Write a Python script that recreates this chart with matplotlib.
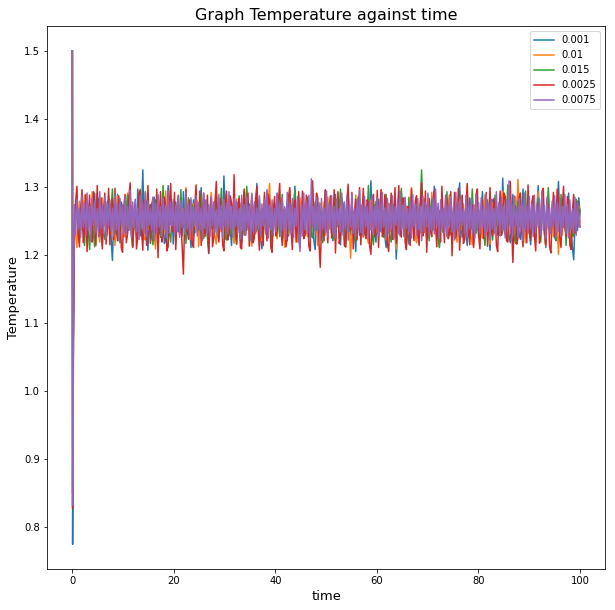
import numpy as np
import matplotlib
matplotlib.use('Agg')
import matplotlib.pyplot as plt

# time grid: a few samples for the initial transient, then the steady run
t_start = [0.0, 0.05, 0.2]
t_first, t_last = 0.4, 100

labels = ['0.001', '0.01', '0.015', '0.0025', '0.0075']

# temperatures (transient first, then the noisy plateau)
temp_0001 = [1.5, 0.775, 1.05,
    1.238, 1.262, 1.271, 1.229, 1.226, 1.257, 1.284, 1.243, 1.247, 1.273, 1.219, 1.251, 1.276, 1.222, 1.233, 1.268, 1.291, 1.239, 1.241, 1.283, 1.262, 1.228, 1.214, 1.266, 1.279, 1.245, 1.236, 1.287, 1.268, 1.224, 1.192, 1.249, 1.258, 1.231, 1.289, 1.254, 1.223, 1.278, 1.270, 1.235,
    1.231, 1.259, 1.283, 1.236, 1.249, 1.271, 1.212, 1.242, 1.266, 1.227, 1.297, 1.255, 1.228, 1.263, 1.325, 1.238, 1.244, 1.279, 1.207, 1.248, 1.274, 1.224, 1.252, 1.285, 1.218, 1.256, 1.286, 1.231, 1.239, 1.272, 1.263, 1.217, 1.221, 1.264, 1.302, 1.246, 1.245, 1.277, 1.216, 1.253,
    1.278, 1.241, 1.234, 1.267, 1.259, 1.228, 1.293, 1.252, 1.225, 1.274, 1.268, 1.236, 1.211, 1.258, 1.281, 1.232, 1.246, 1.269, 1.229, 1.262, 1.299, 1.244, 1.237, 1.281, 1.264, 1.226, 1.202, 1.247, 1.273, 1.239, 1.251, 1.276, 1.286, 1.233, 1.222, 1.265, 1.261, 1.243, 1.316, 1.257,
    1.232, 1.254, 1.269, 1.238, 1.214, 1.263, 1.287, 1.229, 1.243, 1.277, 1.256, 1.221, 1.218, 1.266, 1.294, 1.248, 1.236, 1.259, 1.275, 1.233, 1.227, 1.272, 1.262, 1.244, 1.305, 1.251, 1.241, 1.226, 1.209, 1.257, 1.271, 1.236, 1.248, 1.278, 1.283, 1.239, 1.224, 1.268, 1.259, 1.231,
    1.291, 1.247, 1.233, 1.271, 1.266, 1.235, 1.217, 1.255, 1.279, 1.228, 1.245, 1.274, 1.228, 1.259, 1.301, 1.242, 1.252, 1.223, 1.213, 1.261, 1.272, 1.237, 1.239, 1.276, 1.285, 1.243, 1.226, 1.258, 1.263, 1.221, 1.208, 1.253, 1.277, 1.234, 1.249, 1.268, 1.231, 1.256, 1.295, 1.244,
    1.236, 1.273, 1.268, 1.232, 1.221, 1.257, 1.289, 1.241, 1.254, 1.226, 1.215, 1.264, 1.276, 1.238, 1.242, 1.281, 1.298, 1.246, 1.229, 1.267, 1.261, 1.234, 1.205, 1.252, 1.283, 1.229, 1.247, 1.271, 1.227, 1.256, 1.271, 1.224, 1.238, 1.262, 1.309, 1.245, 1.251, 1.233, 1.219, 1.266,
    1.282, 1.248, 1.234, 1.263, 1.265, 1.227, 1.211, 1.256, 1.274, 1.239, 1.246, 1.279, 1.225, 1.251, 1.194, 1.237, 1.258, 1.228, 1.292, 1.249, 1.237, 1.275, 1.269, 1.231, 1.216, 1.262, 1.287, 1.242, 1.243, 1.268, 1.259, 1.226, 1.222, 1.271, 1.296, 1.251, 1.235, 1.264, 1.273, 1.229,
    1.228, 1.257, 1.262, 1.236, 1.301, 1.254, 1.244, 1.271, 1.212, 1.249, 1.279, 1.233, 1.253, 1.277, 1.231, 1.262, 1.288, 1.241, 1.219, 1.258, 1.266, 1.224, 1.241, 1.276, 1.306, 1.249, 1.226, 1.265, 1.257, 1.232, 1.214, 1.261, 1.284, 1.238, 1.248, 1.271, 1.232, 1.258, 1.275, 1.226,
    1.239, 1.268, 1.293, 1.245, 1.221, 1.257, 1.264, 1.231, 1.207, 1.252, 1.281, 1.238, 1.247, 1.274, 1.229, 1.263, 1.272, 1.241, 1.313, 1.259, 1.236, 1.278, 1.255, 1.227, 1.218, 1.261, 1.289, 1.244, 1.243, 1.272, 1.266, 1.229, 1.223, 1.258, 1.297, 1.247, 1.234, 1.269, 1.261, 1.237,
    1.215, 1.254, 1.278, 1.233, 1.246, 1.269, 1.302, 1.251, 1.229, 1.263, 1.267, 1.228, 1.211, 1.257, 1.284, 1.242, 1.238, 1.273, 1.259, 1.226, 1.221, 1.266, 1.308, 1.252, 1.244, 1.231, 1.273, 1.248, 1.226, 1.264, 1.291, 1.239, 1.236, 1.211, 1.193, 1.245, 1.262, 1.236, 1.284, 1.262]

temp_001 = [1.5, 0.86, 1.1,
    1.262, 1.232, 1.211, 1.254, 1.279, 1.243, 1.236, 1.271, 1.288, 1.247, 1.224, 1.265, 1.257, 1.228, 1.293, 1.249, 1.232, 1.274, 1.268, 1.235, 1.219, 1.256, 1.284, 1.242, 1.245, 1.266, 1.229, 1.252, 1.276, 1.231, 1.251, 1.272, 1.214, 1.248, 1.287, 1.241, 1.239, 1.267, 1.263, 1.227,
    1.227, 1.264, 1.291, 1.238, 1.248, 1.272, 1.216, 1.253, 1.273, 1.229, 1.235, 1.268, 1.297, 1.246, 1.254, 1.226, 1.222, 1.261, 1.281, 1.237, 1.243, 1.275, 1.266, 1.231, 1.209, 1.255, 1.277, 1.244, 1.238, 1.269, 1.259, 1.233, 1.294, 1.252, 1.226, 1.263, 1.271, 1.236, 1.246, 1.278,
    1.218, 1.257, 1.286, 1.242, 1.233, 1.268, 1.264, 1.229, 1.299, 1.256, 1.241, 1.272, 1.223, 1.248, 1.275, 1.236, 1.252, 1.279, 1.212, 1.244, 1.283, 1.251, 1.237, 1.262, 1.267, 1.232, 1.225, 1.271, 1.292, 1.243, 1.249, 1.227, 1.216, 1.258, 1.278, 1.239, 1.234, 1.266, 1.261, 1.228,
    1.289, 1.245, 1.228, 1.263, 1.256, 1.231, 1.217, 1.259, 1.282, 1.237, 1.244, 1.276, 1.271, 1.242, 1.231, 1.268, 1.296, 1.249, 1.253, 1.229, 1.213, 1.257, 1.274, 1.236, 1.239, 1.271, 1.265, 1.227, 1.221, 1.262, 1.287, 1.241, 1.247, 1.276, 1.305, 1.253, 1.236, 1.268, 1.258, 1.232,
    1.224, 1.258, 1.279, 1.236, 1.242, 1.266, 1.211, 1.249, 1.268, 1.231, 1.293, 1.252, 1.233, 1.271, 1.255, 1.226, 1.219, 1.262, 1.284, 1.241, 1.246, 1.273, 1.272, 1.234, 1.227, 1.256, 1.261, 1.239, 1.298, 1.247, 1.238, 1.267, 1.214, 1.252, 1.276, 1.236, 1.251, 1.278, 1.229, 1.259,
    1.285, 1.238, 1.243, 1.271, 1.266, 1.229, 1.221, 1.259, 1.291, 1.247, 1.234, 1.265, 1.257, 1.226, 1.212, 1.254, 1.279, 1.236, 1.195, 1.248, 1.262, 1.231, 1.288, 1.246, 1.237, 1.268, 1.273, 1.235, 1.226, 1.263, 1.254, 1.228, 1.217, 1.257, 1.281, 1.242, 1.244, 1.274, 1.269, 1.233,
    1.231, 1.264, 1.295, 1.243, 1.248, 1.271, 1.222, 1.256, 1.276, 1.234, 1.239, 1.268, 1.263, 1.229, 1.209, 1.252, 1.286, 1.241, 1.252, 1.274, 1.228, 1.259, 1.271, 1.232, 1.235, 1.262, 1.299, 1.248, 1.245, 1.226, 1.218, 1.256, 1.267, 1.233, 1.241, 1.272, 1.283, 1.239, 1.224, 1.261,
    1.258, 1.234, 1.292, 1.251, 1.236, 1.266, 1.269, 1.231, 1.213, 1.255, 1.278, 1.238, 1.249, 1.272, 1.227, 1.259, 1.287, 1.243, 1.241, 1.268, 1.264, 1.229, 1.219, 1.257, 1.282, 1.236, 1.254, 1.275, 1.232, 1.261, 1.296, 1.247, 1.246, 1.227, 1.215, 1.253, 1.274, 1.237, 1.238, 1.266,
    1.263, 1.238, 1.225, 1.261, 1.289, 1.244, 1.247, 1.272, 1.216, 1.253, 1.277, 1.232, 1.235, 1.264, 1.268, 1.237, 1.229, 1.271, 1.294, 1.246, 1.251, 1.228, 1.221, 1.259, 1.273, 1.236, 1.242, 1.267, 1.286, 1.254, 1.311, 1.262, 1.237, 1.271, 1.259, 1.233, 1.218, 1.256, 1.279, 1.243,
    1.244, 1.266, 1.271, 1.237, 1.226, 1.258, 1.293, 1.248, 1.239, 1.274, 1.262, 1.231, 1.214, 1.255, 1.283, 1.241, 1.249, 1.268, 1.227, 1.256, 1.275, 1.238, 1.201, 1.247, 1.258, 1.229, 1.288, 1.251, 1.233, 1.264, 1.266, 1.232, 1.219, 1.257, 1.281, 1.242, 1.245, 1.271, 1.272, 1.248]

temp_0015 = [1.5, 0.85, 1.12,
    1.247, 1.263, 1.276, 1.238, 1.229, 1.257, 1.268, 1.234, 1.214, 1.252, 1.283, 1.236, 1.208, 1.246, 1.257, 1.231, 1.212, 1.262, 1.291, 1.249, 1.238, 1.271, 1.265, 1.232, 1.223, 1.254, 1.279, 1.241, 1.244, 1.268, 1.297, 1.252, 1.231, 1.264, 1.259, 1.227, 1.218, 1.256, 1.272, 1.239,
    1.236, 1.262, 1.288, 1.243, 1.251, 1.229, 1.213, 1.255, 1.274, 1.238, 1.242, 1.269, 1.266, 1.231, 1.221, 1.258, 1.293, 1.247, 1.239, 1.273, 1.257, 1.228, 1.215, 1.254, 1.281, 1.237, 1.248, 1.271, 1.226, 1.259, 1.302, 1.248, 1.245, 1.264, 1.268, 1.233, 1.219, 1.255, 1.277, 1.241,
    1.234, 1.268, 1.262, 1.237, 1.296, 1.251, 1.241, 1.265, 1.217, 1.249, 1.284, 1.236, 1.253, 1.274, 1.228, 1.257, 1.271, 1.233, 1.243, 1.266, 1.289, 1.242, 1.224, 1.261, 1.258, 1.227, 1.211, 1.252, 1.279, 1.238, 1.246, 1.272, 1.267, 1.229, 1.232, 1.263, 1.298, 1.244, 1.249, 1.226,
    1.222, 1.256, 1.275, 1.231, 1.238, 1.267, 1.263, 1.229, 1.216, 1.255, 1.287, 1.242, 1.244, 1.271, 1.229, 1.261, 1.301, 1.248, 1.252, 1.227, 1.219, 1.258, 1.269, 1.234, 1.237, 1.264, 1.283, 1.241, 1.226, 1.257, 1.258, 1.231, 1.294, 1.252, 1.241, 1.268, 1.213, 1.249, 1.276, 1.238,
    1.248, 1.271, 1.227, 1.259, 1.289, 1.241, 1.256, 1.232, 1.221, 1.263, 1.272, 1.237, 1.239, 1.266, 1.295, 1.249, 1.244, 1.228, 1.216, 1.254, 1.267, 1.238, 1.231, 1.269, 1.284, 1.241, 1.253, 1.229, 1.225, 1.261, 1.278, 1.236, 1.242, 1.273, 1.262, 1.233, 1.218, 1.257, 1.291, 1.246,
    1.237, 1.259, 1.264, 1.231, 1.223, 1.256, 1.281, 1.243, 1.249, 1.268, 1.297, 1.251, 1.234, 1.261, 1.212, 1.247, 1.273, 1.235, 1.245, 1.271, 1.259, 1.228, 1.221, 1.262, 1.286, 1.244, 1.238, 1.269, 1.266, 1.232, 1.228, 1.257, 1.302, 1.253, 1.247, 1.229, 1.215, 1.256, 1.279, 1.242,
    1.243, 1.265, 1.268, 1.234, 1.226, 1.259, 1.289, 1.245, 1.251, 1.227, 1.219, 1.256, 1.274, 1.238, 1.236, 1.271, 1.263, 1.239, 1.298, 1.252, 1.241, 1.266, 1.214, 1.248, 1.285, 1.237, 1.252, 1.274, 1.229, 1.258, 1.271, 1.233, 1.246, 1.279, 1.325, 1.262, 1.233, 1.255, 1.266, 1.238,
    1.221, 1.257, 1.282, 1.238, 1.247, 1.269, 1.258, 1.229, 1.211, 1.253, 1.276, 1.234, 1.239, 1.265, 1.293, 1.246, 1.254, 1.231, 1.227, 1.262, 1.269, 1.236, 1.243, 1.271, 1.218, 1.252, 1.286, 1.241, 1.235, 1.267, 1.261, 1.228, 1.224, 1.259, 1.297, 1.248, 1.249, 1.232, 1.273, 1.244,
    1.232, 1.258, 1.267, 1.236, 1.214, 1.252, 1.281, 1.239, 1.245, 1.271, 1.222, 1.256, 1.288, 1.243, 1.253, 1.229, 1.236, 1.266, 1.274, 1.238, 1.229, 1.262, 1.303, 1.251, 1.242, 1.273, 1.261, 1.227, 1.217, 1.255, 1.279, 1.241, 1.248, 1.268, 1.231, 1.259, 1.294, 1.247, 1.256, 1.234,
    1.226, 1.254, 1.271, 1.235, 1.238, 1.266, 1.284, 1.242, 1.219, 1.257, 1.263, 1.231, 1.247, 1.272, 1.299, 1.251, 1.233, 1.262, 1.276, 1.239, 1.222, 1.259, 1.258, 1.234, 1.289, 1.246, 1.241, 1.268, 1.214, 1.251, 1.273, 1.237, 1.252, 1.227, 1.228, 1.264, 1.282, 1.248, 1.245, 1.267]

temp_00025 = [1.5, 0.828, 1.08,
    1.224, 1.279, 1.301, 1.231, 1.212, 1.268, 1.296, 1.218, 1.237, 1.289, 1.205, 1.256, 1.288, 1.226, 1.219, 1.293, 1.274, 1.214, 1.302, 1.247, 1.228, 1.284, 1.209, 1.262, 1.291, 1.216, 1.243, 1.298, 1.215, 1.251, 1.283, 1.223, 1.298, 1.239, 1.221, 1.287, 1.266, 1.211, 1.204, 1.272,
    1.289, 1.218, 1.232, 1.286, 1.306, 1.244, 1.211, 1.263, 1.278, 1.209, 1.226, 1.291, 1.295, 1.236, 1.207, 1.281, 1.259, 1.214, 1.302, 1.253, 1.217, 1.274, 1.284, 1.222, 1.239, 1.297, 1.196, 1.258, 1.293, 1.219, 1.228, 1.285, 1.271, 1.206, 1.213, 1.276, 1.305, 1.241, 1.234, 1.292,
    1.208, 1.264, 1.287, 1.229, 1.254, 1.213, 1.172, 1.251, 1.296, 1.238, 1.223, 1.281, 1.279, 1.216, 1.211, 1.272, 1.303, 1.245, 1.238, 1.294, 1.214, 1.259, 1.291, 1.227, 1.247, 1.288, 1.203, 1.256, 1.285, 1.212, 1.226, 1.279, 1.308, 1.242, 1.219, 1.283, 1.268, 1.215, 1.206, 1.274,
    1.294, 1.222, 1.231, 1.287, 1.276, 1.236, 1.318, 1.249, 1.216, 1.271, 1.283, 1.211, 1.209, 1.268, 1.297, 1.229, 1.242, 1.291, 1.213, 1.257, 1.288, 1.218, 1.225, 1.282, 1.301, 1.237, 1.207, 1.262, 1.265, 1.214, 1.292, 1.246, 1.221, 1.289, 1.279, 1.211, 1.204, 1.267, 1.286, 1.228,
    1.233, 1.278, 1.305, 1.241, 1.214, 1.263, 1.268, 1.212, 1.227, 1.286, 1.299, 1.235, 1.208, 1.271, 1.281, 1.219, 1.245, 1.293, 1.211, 1.257, 1.294, 1.224, 1.229, 1.288, 1.274, 1.213, 1.206, 1.266, 1.309, 1.248, 1.236, 1.291, 1.285, 1.218, 1.182, 1.243, 1.262, 1.221, 1.296, 1.249,
    1.218, 1.267, 1.287, 1.225, 1.241, 1.296, 1.203, 1.254, 1.293, 1.217, 1.229, 1.284, 1.271, 1.214, 1.212, 1.269, 1.304, 1.246, 1.237, 1.292, 1.209, 1.263, 1.282, 1.222, 1.255, 1.299, 1.215, 1.258, 1.298, 1.236, 1.224, 1.281, 1.276, 1.213, 1.201, 1.259, 1.289, 1.227, 1.243, 1.295,
    1.211, 1.262, 1.296, 1.227, 1.233, 1.289, 1.278, 1.216, 1.205, 1.258, 1.291, 1.223, 1.248, 1.299, 1.217, 1.266, 1.302, 1.241, 1.226, 1.283, 1.284, 1.219, 1.208, 1.271, 1.269, 1.214, 1.297, 1.245, 1.221, 1.279, 1.287, 1.232, 1.214, 1.273, 1.306, 1.228, 1.239, 1.294, 1.204, 1.256,
    1.283, 1.236, 1.227, 1.281, 1.295, 1.242, 1.212, 1.268, 1.264, 1.219, 1.301, 1.253, 1.218, 1.287, 1.279, 1.224, 1.231, 1.293, 1.199, 1.251, 1.292, 1.226, 1.246, 1.298, 1.207, 1.262, 1.288, 1.217, 1.223, 1.276, 1.305, 1.239, 1.215, 1.268, 1.274, 1.211, 1.236, 1.289, 1.297, 1.229,
    1.209, 1.265, 1.281, 1.224, 1.244, 1.292, 1.213, 1.257, 1.299, 1.238, 1.228, 1.283, 1.267, 1.214, 1.205, 1.262, 1.294, 1.229, 1.237, 1.291, 1.286, 1.221, 1.219, 1.276, 1.308, 1.243, 1.189, 1.248, 1.272, 1.216, 1.225, 1.285, 1.291, 1.234, 1.212, 1.269, 1.263, 1.218, 1.303, 1.247,
    1.221, 1.278, 1.287, 1.231, 1.206, 1.259, 1.276, 1.217, 1.234, 1.293, 1.298, 1.238, 1.215, 1.281, 1.269, 1.212, 1.203, 1.255, 1.292, 1.228, 1.241, 1.297, 1.284, 1.226, 1.211, 1.268, 1.301, 1.243, 1.227, 1.286, 1.275, 1.214, 1.208, 1.263, 1.289, 1.232, 1.236, 1.279, 1.262, 1.241]

temp_00075 = [1.5, 0.832, 1.1,
    1.274, 1.231, 1.282, 1.238, 1.269, 1.226, 1.287, 1.241, 1.276, 1.229, 1.291, 1.236, 1.271, 1.222, 1.284, 1.244, 1.279, 1.233, 1.268, 1.227, 1.293, 1.239, 1.273, 1.231, 1.286, 1.224, 1.277, 1.242, 1.281, 1.235, 1.269, 1.228, 1.289, 1.237, 1.275, 1.221, 1.283, 1.243, 1.272, 1.232,
    1.286, 1.229, 1.271, 1.238, 1.295, 1.226, 1.278, 1.241, 1.282, 1.234, 1.269, 1.223, 1.287, 1.239, 1.274, 1.231, 1.291, 1.227, 1.279, 1.244, 1.268, 1.236, 1.285, 1.222, 1.276, 1.233, 1.289, 1.241, 1.271, 1.228, 1.283, 1.237, 1.273, 1.225, 1.294, 1.232, 1.277, 1.243, 1.281, 1.229,
    1.272, 1.235, 1.288, 1.226, 1.279, 1.241, 1.268, 1.231, 1.292, 1.238, 1.275, 1.224, 1.284, 1.233, 1.271, 1.242, 1.287, 1.228, 1.277, 1.236, 1.269, 1.221, 1.291, 1.239, 1.281, 1.232, 1.274, 1.227, 1.286, 1.243, 1.278, 1.234, 1.267, 1.229, 1.289, 1.237, 1.273, 1.225, 1.282, 1.241,
    1.276, 1.231, 1.293, 1.238, 1.271, 1.226, 1.283, 1.242, 1.279, 1.233, 1.268, 1.224, 1.288, 1.236, 1.274, 1.229, 1.285, 1.241, 1.272, 1.222, 1.291, 1.235, 1.278, 1.231, 1.269, 1.238, 1.287, 1.227, 1.275, 1.243, 1.282, 1.232, 1.296, 1.225, 1.273, 1.237, 1.281, 1.229, 1.268, 1.234,
    1.289, 1.241, 1.277, 1.228, 1.284, 1.236, 1.271, 1.223, 1.292, 1.239, 1.275, 1.231, 1.283, 1.226, 1.269, 1.242, 1.286, 1.233, 1.205, 1.274, 1.228, 1.291, 1.237, 1.279, 1.232, 1.288, 1.224, 1.312, 1.241, 1.272, 1.229, 1.285, 1.236, 1.277, 1.221, 1.283, 1.238, 1.269, 1.233, 1.294,
    1.227, 1.276, 1.239, 1.287, 1.231, 1.271, 1.225, 1.282, 1.243, 1.268, 1.234, 1.291, 1.229, 1.278, 1.237, 1.285, 1.222, 1.273, 1.241, 1.289, 1.232, 1.269, 1.226, 1.281, 1.238, 1.295, 1.233, 1.274, 1.228, 1.286, 1.242, 1.271, 1.224, 1.279, 1.236, 1.288, 1.231, 1.272, 1.239, 1.284,
    1.229, 1.277, 1.235, 1.292, 1.241, 1.269, 1.226, 1.283, 1.232, 1.275, 1.238, 1.287, 1.223, 1.271, 1.244, 1.281, 1.231, 1.294, 1.236, 1.273, 1.227, 1.285, 1.239, 1.268, 1.233, 1.279, 1.225, 1.289, 1.242, 1.274, 1.229, 1.283, 1.237, 1.271, 1.221, 1.286, 1.234, 1.277, 1.241, 1.291,
    1.228, 1.272, 1.236, 1.284, 1.231, 1.297, 1.243, 1.276, 1.225, 1.281, 1.238, 1.269, 1.232, 1.288, 1.227, 1.274, 1.241, 1.285, 1.234, 1.271, 1.222, 1.292, 1.237, 1.278, 1.229, 1.283, 1.244, 1.268, 1.233, 1.287, 1.226, 1.275, 1.239, 1.282, 1.231, 1.273, 1.224, 1.289, 1.236, 1.277,
    1.232, 1.284, 1.241, 1.271, 1.227, 1.289, 1.235, 1.276, 1.223, 1.282, 1.238, 1.268, 1.231, 1.293, 1.243, 1.277, 1.228, 1.285, 1.236, 1.272, 1.225, 1.281, 1.239, 1.309, 1.232, 1.274, 1.229, 1.287, 1.242, 1.269, 1.226, 1.283, 1.234, 1.278, 1.221, 1.291, 1.237, 1.273, 1.231, 1.286,
    1.238, 1.275, 1.227, 1.288, 1.233, 1.271, 1.241, 1.282, 1.229, 1.294, 1.236, 1.273, 1.224, 1.285, 1.239, 1.269, 1.231, 1.279, 1.243, 1.287, 1.226, 1.276, 1.235, 1.283, 1.228, 1.271, 1.241, 1.289, 1.232, 1.274, 1.225, 1.281, 1.237, 1.268, 1.233, 1.285, 1.229, 1.277, 1.241, 1.262]

series = [temp_0001, temp_001, temp_0015, temp_00025, temp_00075]

fig = plt.figure(figsize=(615 / 72, 610 / 72), dpi=72)
ax = fig.add_axes([0.0764, 0.0672, 0.908, 0.890])

for temps, lab in zip(series, labels):
    time = np.concatenate([t_start, np.linspace(t_first, t_last, len(temps) - len(t_start))])
    ax.plot(time, temps, label=lab, linewidth=1.5)

ax.set_title('Graph Temperature against time', fontsize=16)
ax.set_xlabel('time', fontsize=13)
ax.set_ylabel('Temperature', fontsize=13)
ax.legend(loc='upper right')

fig.savefig('out.png', dpi=72)
